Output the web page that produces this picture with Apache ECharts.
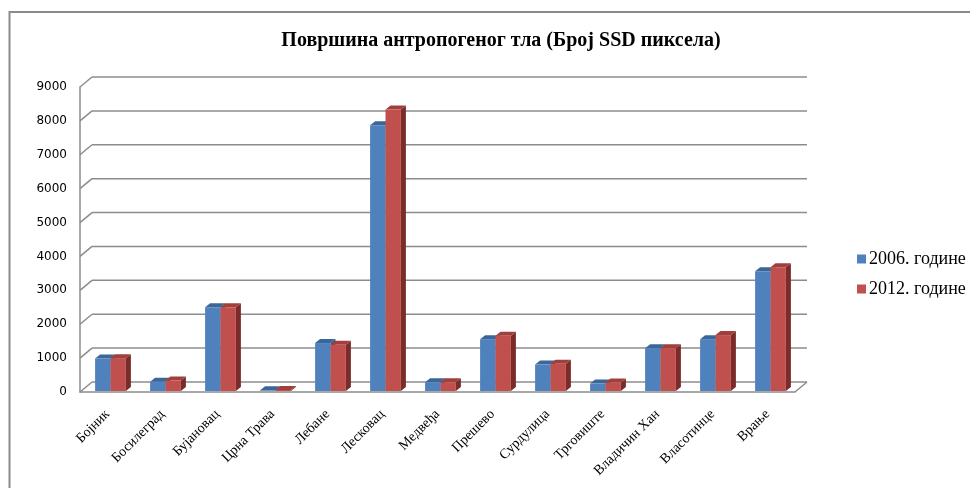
<!DOCTYPE html>
<html>
<head>
<meta charset="utf-8">
<script src="https://cdn.jsdelivr.net/npm/echarts@6/dist/echarts.min.js"></script>
<style>
  html, body { margin: 0; padding: 0; background: #fff; }
  #chart { width: 970px; height: 488px; }
</style>
</head>
<body>
<div id="chart"></div>
<script>
// подаци
var categories = ['Бојник', 'Босилеград', 'Бујановац', 'Црна Трава', 'Лебане', 'Лесковац', 'Медвеђа',
    'Прешево', 'Сурдулица', 'Трговиште', 'Владичин Хан', 'Власотинце', 'Врање'];
var values2006 = [960, 270, 2470, 20, 1415, 7840, 255, 1530, 780, 220, 1265, 1530, 3530];
var values2012 = [970, 310, 2470, 30, 1365, 8310, 255, 1630, 805, 250, 1265, 1650, 3650];
var yTicks = [0, 1000, 2000, 3000, 4000, 5000, 6000, 7000, 8000, 9000];

var chart = echarts.init(document.getElementById('chart'));

// дубина зида и стубића
var WALL_DX = 12, WALL_DY = -10;
var BAR_DX = 5, BAR_DY = -4;
var lineColor = '#8c8c8c';

// задњи зид: линије мреже и дијагонале
function renderWall(params, api) {
    var cs = params.coordSys;
    var v = api.value(0);
    var y = api.coord([0, v])[1];
    var children = [
        { type: 'line', shape: { x1: cs.x, y1: y, x2: cs.x + WALL_DX, y2: y + WALL_DY },
          style: { stroke: lineColor, lineWidth: 1.5 } },
        { type: 'line', shape: { x1: cs.x + WALL_DX, y1: y + WALL_DY, x2: cs.x + cs.width + WALL_DX, y2: y + WALL_DY },
          style: { stroke: lineColor, lineWidth: 1.5 } }
    ];
    if (v === 0) {
        children.push({ type: 'line', shape: { x1: cs.x + cs.width, y1: y, x2: cs.x + cs.width + WALL_DX, y2: y + WALL_DY },
            style: { stroke: lineColor, lineWidth: 1.5 } });
    }
    return { type: 'group', children: children };
}

// 3Д стубић
function makeBarRenderer(side, front, top, dark) {
    return function (params, api) {
        var idx = api.value(0);
        var p = api.coord([idx, api.value(1)]);
        var p0 = api.coord([idx, 0]);
        var bw = api.size([1, 0])[0];
        var w = bw * 0.28;
        var x = side < 0 ? p[0] - w + 3 : p[0] + 3;
        var yTop = p[1] - 1, yBot = p0[1] - 1;
        return {
            type: 'group',
            children: [
                { type: 'polygon', shape: { points: [[x + w, yTop], [x + w + BAR_DX, yTop + BAR_DY], [x + w + BAR_DX, yBot + BAR_DY], [x + w, yBot]] },
                  style: { fill: dark } },
                { type: 'polygon', shape: { points: [[x, yTop], [x + BAR_DX, yTop + BAR_DY], [x + w + BAR_DX, yTop + BAR_DY], [x + w, yTop]] },
                  style: { fill: top } },
                { type: 'rect', shape: { x: x, y: yTop, width: w, height: yBot - yTop },
                  style: { fill: front } }
            ]
        };
    };
}

var option = {
    animation: false,
    backgroundColor: '#fff',
    title: {
        text: 'Површина антропогеног тла (Број SSD пиксела)',
        left: 496, top: 26, textAlign: 'center',
        textStyle: { fontFamily: 'Liberation Serif', fontSize: 20, fontWeight: 'bold', color: '#000' }
    },
    legend: {
        orient: 'vertical',
        left: 852, top: 245,
        itemWidth: 9, itemHeight: 9, itemGap: 12,
        icon: 'rect',
        data: ['2006. године', '2012. године'],
        textStyle: { fontFamily: 'Liberation Serif', fontSize: 18, color: '#000', padding: [0, 0, 0, -2] }
    },
    graphic: [{
        type: 'polyline',
        shape: { points: [[9.5, 488], [9.5, 12], [970, 12]] },
        style: { stroke: '#8a8a8a', lineWidth: 2, fill: null }
    }],
    grid: { left: 80, right: 175, top: 87, bottom: 96 },
    xAxis: {
        type: 'category',
        data: categories,
        axisLine: { show: true, lineStyle: { color: lineColor, width: 1.5 } },
        axisTick: { show: false },
        axisLabel: { rotate: 45, margin: 20, interval: 0, fontFamily: 'Liberation Serif', fontSize: 14, color: '#000' }
    },
    yAxis: {
        type: 'value',
        min: 0, max: 9000, interval: 1000,
        axisLine: { show: true, lineStyle: { color: lineColor, width: 1.5 } },
        axisTick: { show: false },
        splitLine: { show: false },
        axisLabel: {
            margin: 13, fontFamily: 'DejaVu Sans', fontSize: 12, color: '#000',
            formatter: function (v) { return String(v); }
        }
    },
    series: [
        {
            name: 'wall', type: 'custom', silent: true, z: 1,
            renderItem: renderWall,
            data: yTicks.map(function (t) { return [t]; })
        },
        {
            name: '2006. године', type: 'custom', z: 2,
            itemStyle: { color: '#4F81BD' },
            renderItem: makeBarRenderer(-1, '#4F81BD', '#3B6699', '#2F5682'),
            data: values2006.map(function (v, i) { return [i, v]; })
        },
        {
            name: '2012. године', type: 'custom', z: 3,
            itemStyle: { color: '#C0504D' },
            renderItem: makeBarRenderer(1, '#C0504D', '#A23E3B', '#7A2C2A'),
            data: values2012.map(function (v, i) { return [i, v]; })
        }
    ]
};

chart.setOption(option);
</script>
</body>
</html>
